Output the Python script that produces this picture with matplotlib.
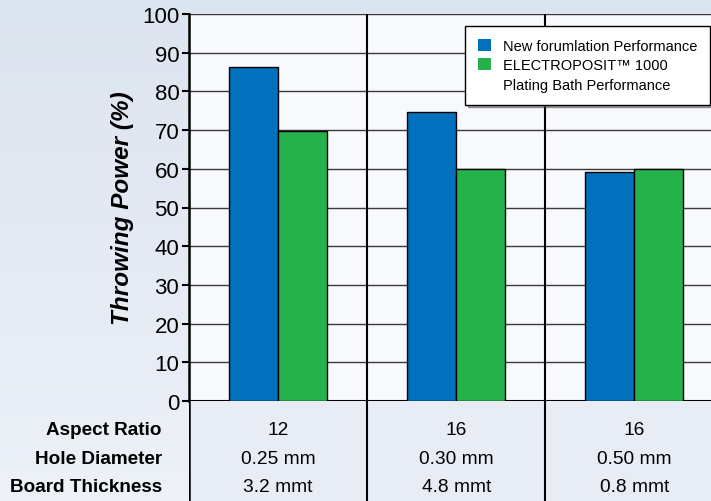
import numpy as np
import matplotlib
matplotlib.use("Agg")
import matplotlib.pyplot as plt
from matplotlib.patches import Patch

plt.rcParams['font.family'] = ['Liberation Sans', 'DejaVu Sans']

groups = [0, 1, 2]
new_perf = [86.3, 74.8, 59.2]
electro_perf = [69.8, 60.0, 60.0]
series_names = ["New forumlation Performance", "ELECTROPOSIT\u2122 1000"]
series_names_2nd_line = "Plating Bath Performance"
row_labels = ["Aspect Ratio", "Hole Diameter", "Board Thickness"]
aspect_ratio = ["12", "16", "16"]
hole_diameter = ["0.25 mm", "0.30 mm", "0.50 mm"]
board_thickness = ["3.2 mmt", "4.8 mmt", "0.8 mmt"]
yticks = np.arange(0, 101, 10)

blue = '#0170bd'
green = '#25b24b'

fig = plt.figure(figsize=(7.11, 5.02), dpi=100)

# background gradient
bg = fig.add_axes([0, 0, 1, 1], zorder=-10)
grad = np.linspace(0, 1, 256).reshape(-1, 1)
cmap = matplotlib.colors.LinearSegmentedColormap.from_list('bg', ['#dce4ef', '#edf1f8'])
bg.imshow(grad, aspect='auto', cmap=cmap, extent=[0, 1, 0, 1])
bg.axis('off')

left = 189 / 711
bottom = 100 / 502
top = 487 / 502
ax = fig.add_axes([left, bottom, 1 - left, top - bottom])
ax.set_facecolor('#f7f9fc')

w = 0.275
x = np.array(groups)
ax.bar(x - w, new_perf, w, align='edge', color=blue, edgecolor='black', linewidth=1, zorder=3)
ax.bar(x, electro_perf, w, align='edge', color=green, edgecolor='black', linewidth=1, zorder=3)

ax.set_xlim(-0.5, 2.43)
ax.set_ylim(0, 100)
ax.set_yticks(yticks)
ax.tick_params(axis='y', labelsize=16, length=5, width=1.5, direction='out', pad=2)
ax.set_xticks([])
ax.yaxis.grid(True, color='#3a3a3a', linewidth=1)
ax.set_axisbelow(True)
for s in ['top', 'right']:
    ax.spines[s].set_visible(False)
ax.spines['left'].set_linewidth(1.8)
ax.spines['bottom'].set_linewidth(1.5)
for xv in [0.5, 1.5]:
    ax.axvline(xv, color='black', linewidth=1.5, zorder=2)

ax.set_ylabel("Throwing Power (%)", fontsize=17.5, fontweight='bold', fontstyle='italic', labelpad=6)

handles = [Patch(facecolor=blue, edgecolor='none'),
           Patch(facecolor=green, edgecolor='none'),
           Patch(facecolor='none', edgecolor='none')]
labels = series_names + [series_names_2nd_line]
leg = ax.legend(handles, labels, loc='upper left', bbox_to_anchor=(465 / 711, 475 / 502),
                bbox_transform=fig.transFigure, borderaxespad=0, fontsize=10.5, frameon=True,
                fancybox=False, shadow=True, borderpad=0.9, handlelength=0.9, handleheight=0.9,
                labelspacing=0.35, handletextpad=0.8)
leg.get_frame().set_edgecolor('black')
leg.get_frame().set_linewidth(1)
leg.get_frame().set_facecolor('white')

# table region
tab = fig.add_axes([left, 0, 1 - left, bottom], sharex=ax)
tab.set_facecolor('#e8edf5')
tab.set_ylim(0, 100)
for s in tab.spines.values():
    s.set_visible(False)
tab.tick_params(left=False, bottom=False, labelleft=False, labelbottom=False)
for xv in [-0.5, 0.5, 1.5]:
    tab.axvline(xv, color='black', linewidth=1.5 if xv != -0.5 else 1.8)

row_y = [71, 42, 14]
rows = [aspect_ratio, hole_diameter, board_thickness]
for yv, lab, vals in zip(row_y, row_labels, rows):
    fig.text(162 / 711, yv / 502, lab, ha='right', va='center', fontsize=13.6, fontweight='bold')
    for g, v in zip(groups, vals):
        tab.text(g, yv, v, ha='center', va='center', fontsize=13.8)

fig.savefig("out.png", dpi=100)
